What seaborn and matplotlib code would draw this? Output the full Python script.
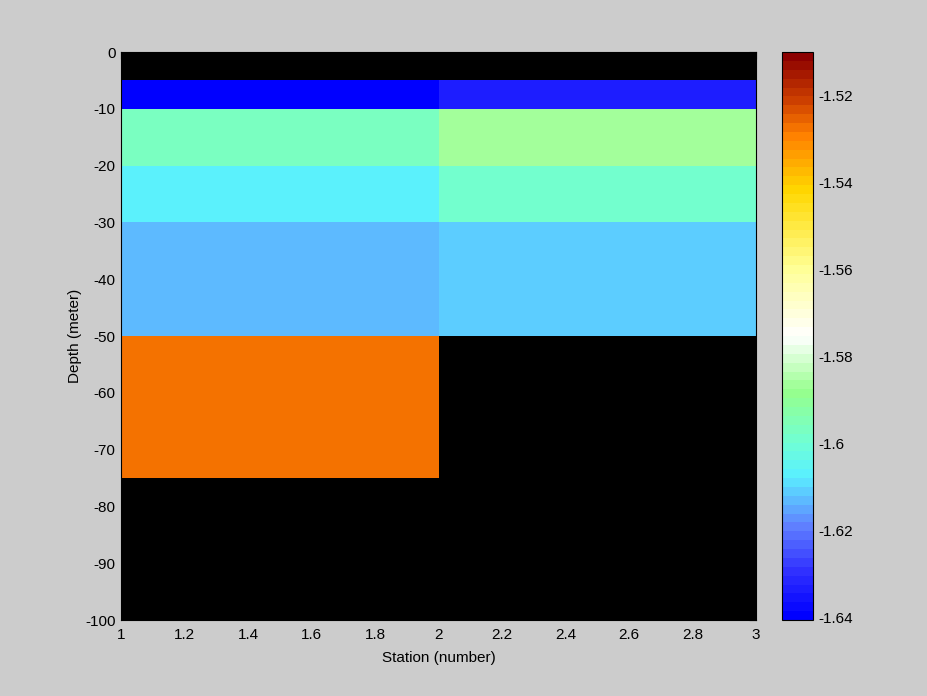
import numpy as np
import matplotlib
matplotlib.use("Agg")
import matplotlib.pyplot as plt
from matplotlib.colors import LinearSegmentedColormap
from matplotlib.ticker import FuncFormatter
import seaborn as sns

# ---- data ----
station_edges = [1, 2, 3]
depth_edges = [0, -5, -10, -20, -30, -50, -75, -100]
station1_values = [np.nan, -1.640, -1.597, -1.607, -1.614, -1.5275, np.nan]
station2_values = [np.nan, -1.634, -1.5875, -1.599, -1.611, np.nan, np.nan]
x_ticks = [1, 1.2, 1.4, 1.6, 1.8, 2, 2.2, 2.4, 2.6, 2.8, 3]
y_ticks = [0, -10, -20, -30, -40, -50, -60, -70, -80, -90, -100]
cbar_ticks = [-1.64, -1.62, -1.60, -1.58, -1.56, -1.54, -1.52]
clim = (-1.6405, -1.5101)
x_label = "Station (number)"
y_label = "Depth (meter)"

sns.set_theme(style="white")
plt.rcParams['font.family'] = ['Liberation Sans', 'DejaVu Sans']

anchors = [
    (0.00, (0, 0, 255)),
    (0.08, (48, 48, 255)),
    (0.16, (96, 128, 255)),
    (0.25, (90, 240, 255)),
    (0.31, (112, 255, 212)),
    (0.40, (150, 255, 140)),
    (0.50, (255, 255, 255)),
    (0.62, (255, 255, 150)),
    (0.76, (255, 215, 0)),
    (0.86, (255, 128, 0)),
    (0.92, (205, 64, 0)),
    (1.00, (140, 0, 0)),
]
cmap = LinearSegmentedColormap.from_list(
    "custom", [(p, tuple(c / 255 for c in rgb)) for p, rgb in anchors], N=64)

values = np.column_stack([station1_values, station2_values])
Z = np.ma.masked_invalid(values)

fig = plt.figure(figsize=(9.28, 6.96), dpi=100, facecolor="#cccccc")
ax = fig.add_axes([121 / 928, 76 / 696, 635 / 928, 568 / 696])
cax = fig.add_axes([782 / 928, 76 / 696, 31 / 928, 568 / 696])

ax.set_facecolor("black")
mesh = ax.pcolormesh(station_edges, depth_edges, Z, cmap=cmap,
                     vmin=clim[0], vmax=clim[1], shading="flat")
ax.set_xlim(1, 3)
ax.set_ylim(-100, 0)
ax.set_xticks(x_ticks)
ax.set_yticks(y_ticks)
fmt = FuncFormatter(lambda v, p: "%g" % round(v, 4))
ax.xaxis.set_major_formatter(fmt)
ax.yaxis.set_major_formatter(fmt)
ax.tick_params(direction="in", length=5, width=0.8, colors="black",
               labelsize=11, top=True, right=True, pad=4)
ax.tick_params(axis="x", pad=6)
for s in ax.spines.values():
    s.set_color("black")
    s.set_linewidth(0.8)
ax.set_xlabel(x_label, fontsize=11, color="black", labelpad=6)
ax.set_ylabel(y_label, fontsize=11, color="black", labelpad=2)

cb = fig.colorbar(mesh, cax=cax)
cb.set_ticks(cbar_ticks)
cb.ax.yaxis.set_major_formatter(fmt)
cb.ax.tick_params(direction="in", length=5, width=0.8, colors="black",
                  labelsize=11, left=True, right=True, pad=4)
cb.outline.set_edgecolor("black")
cb.outline.set_linewidth(0.8)

fig.savefig("out.png", dpi=100, facecolor=fig.get_facecolor())
